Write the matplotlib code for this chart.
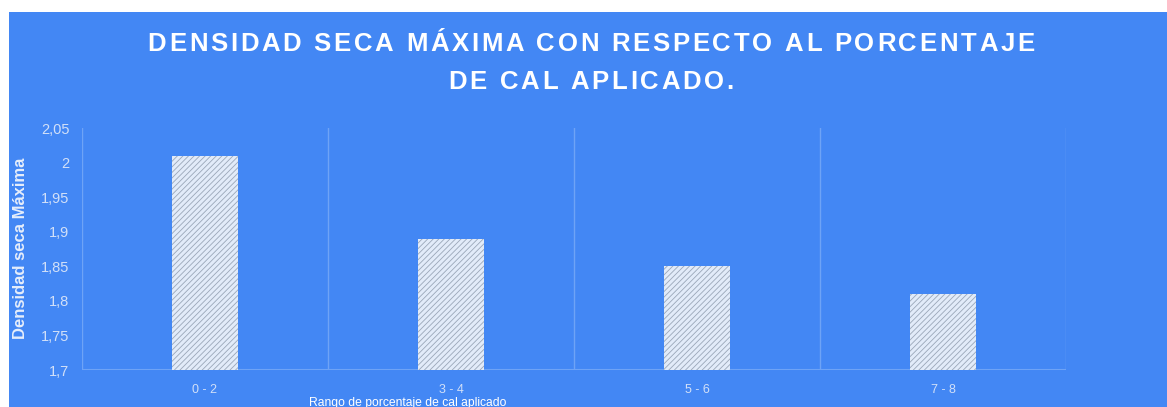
import numpy as np
import matplotlib.pyplot as plt
from matplotlib.patches import Rectangle
from matplotlib.font_manager import FontProperties

# datos
rangos = ["0 - 2", "3 - 4", "5 - 6", "7 - 8"]
densidad = [2.01, 1.89, 1.85, 1.81]
y_ticks = [1.7, 1.75, 1.8, 1.85, 1.9, 1.95, 2.0, 2.05]
y_tick_labels = ["1,7", "1,75", "1,8", "1,85", "1,9", "1,95", "2", "2,05"]
titulo = ["DENSIDAD SECA MÁXIMA CON RESPECTO AL PORCENTAJE", "DE CAL APLICADO."]

azul = "#4387f4"
texto_claro = "#d2e0f8"
linea = "#6ea3f6"

plt.rcParams['font.family'] = ['Liberation Sans', 'DejaVu Sans']
plt.rcParams['hatch.color'] = '#9aa6b8'
plt.rcParams['hatch.linewidth'] = 0.6

W, H = 1167, 407
fig = plt.figure(figsize=(W / 100, H / 100), dpi=100, facecolor="white")
# fondo azul del grafico (borde blanco arriba e izquierda)
fig.patches.append(Rectangle((9 / W, 0), 1 - 9 / W, (H - 12) / H,
                             transform=fig.transFigure, facecolor=azul,
                             edgecolor="none", zorder=-10))

ax = fig.add_axes([82 / W, (H - 370) / H, (1066 - 82) / W, (370 - 128) / H])
ax.set_zorder(1)
ax.patch.set_alpha(0)

x = np.arange(len(rangos))
ax.bar(x, [v - 1.7 for v in densidad], bottom=1.7, width=0.27,
       color="#e2ebf9", edgecolor="#9aa6b8", linewidth=0, hatch="//////", zorder=3)

ax.set_xlim(-0.5, len(rangos) - 0.5)
ax.set_ylim(1.7, 2.05)

# separadores verticales entre categorias
for b in np.arange(-0.5, len(rangos), 1.0):
    ax.axvline(b, color=linea, linewidth=1.0, zorder=1)

for s in ax.spines.values():
    s.set_visible(False)
ax.axhline(1.7, color=linea, linewidth=1.5, zorder=2)

ax.set_yticks(y_ticks)
ax.set_yticklabels(y_tick_labels)
ax.set_xticks(x)
ax.set_xticklabels(rangos)
ax.tick_params(axis="both", length=0, colors=texto_claro)
ax.tick_params(axis="y", pad=9, labelsize=10.5)
ax.tick_params(axis="x", pad=10, labelsize=9)

fig.text(21 / W, (H - 248) / H, "Densidad seca Máxima", rotation=90,
         color="#e6eefb", fontsize=12, fontweight="bold", ha="center", va="center")
fig.text(408 / W, (H - 403) / H, "Rango de porcentaje de cal aplicado",
         color="white", fontsize=8.7, ha="center", va="center")


def ancho_letras(s, fp, size):
    r = fig.canvas.get_renderer()
    anchos = []
    for ch in s:
        if ch == " ":
            anchos.append(size * 100 / 72 * 0.278)
        else:
            anchos.append(r.get_text_width_height_descent(ch, fp, ismath=False)[0])
    return anchos


def texto_espaciado(s, xc, yc, size, track):
    # coloca letra a letra para abrir el espaciado entre caracteres
    fp = FontProperties(family="Liberation Sans", weight="bold", size=size)
    anchos = ancho_letras(s, fp, size)
    total = sum(anchos) + track * (len(s) - 1)
    x0 = xc - total / 2
    for ch, w in zip(s, anchos):
        if ch != " ":
            fig.text(x0 / W, (H - yc) / H, ch, fontproperties=fp, color="white",
                     ha="left", va="center")
        x0 += w + track


tam = 18.5
fp_tit = FontProperties(family="Liberation Sans", weight="bold", size=tam)
track = (887 - sum(ancho_letras(titulo[0], fp_tit, tam))) / (len(titulo[0]) - 1)
texto_espaciado(titulo[0], 591, 44, tam, track)
texto_espaciado(titulo[1], 591, 82, tam, track)

fig.savefig("out.png", dpi=100, facecolor="white")
